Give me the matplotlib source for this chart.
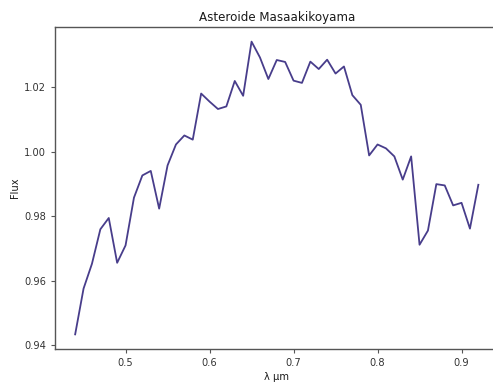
import matplotlib
matplotlib.use("Agg")
import matplotlib.pyplot as plt
import numpy as np

wavelength = [0.44, 0.45, 0.46, 0.47, 0.48, 0.49, 0.50, 0.51, 0.52, 0.53,
              0.54, 0.55, 0.56, 0.57, 0.58, 0.59, 0.60, 0.61, 0.62, 0.63,
              0.64, 0.65, 0.66, 0.67, 0.68, 0.69, 0.70, 0.71, 0.72, 0.73,
              0.74, 0.75, 0.76, 0.77, 0.78, 0.79, 0.80, 0.81, 0.82, 0.83,
              0.84, 0.85, 0.86, 0.87, 0.88, 0.89, 0.90, 0.91, 0.92]
flux = [0.9433, 0.9575, 0.9652, 0.9759, 0.9794, 0.9655, 0.9709, 0.9857, 0.9926, 0.9940,
        0.9823, 0.9957, 1.0022, 1.0050, 1.0037, 1.0180, 1.0155, 1.0132, 1.0140, 1.0219,
        1.0173, 1.0341, 1.0292, 1.0225, 1.0284, 1.0278, 1.0220, 1.0213, 1.0279, 1.0256,
        1.0285, 1.0242, 1.0264, 1.0175, 1.0145, 0.9988, 1.0022, 1.0010, 0.9985, 0.9913,
        0.9985, 0.9711, 0.9755, 0.9899, 0.9895, 0.9833, 0.9841, 0.9761, 0.9897]

title = "Asteroide Masaakikoyama"
xlabel = "λ μm"
ylabel = "Flux"

W, H = 493, 385
fig = plt.figure(figsize=(W / 100, H / 100), dpi=100)
ax = fig.add_axes([55 / W, 36 / H, 443.5 / W, 322 / H])
ax.plot(wavelength, flux, color="#483D8B", linewidth=1.3)
ax.set_title(title, fontsize=8.6, color="#1a1a1a", pad=4)
ax.set_xlabel(xlabel, fontsize=7.1, color="#1a1a1a", labelpad=3)
ax.set_ylabel(ylabel, fontsize=7.1, color="#1a1a1a", labelpad=3)
ax.set_xticks([0.5, 0.6, 0.7, 0.8, 0.9])
ax.set_yticks([0.94, 0.96, 0.98, 1.00, 1.02])
ax.tick_params(labelsize=7.1, labelcolor="#333333", color="#555555", length=3, width=0.8)
for s in ax.spines.values():
    s.set_color("#555555")
    s.set_linewidth(1.0)
ax.spines["right"].set_visible(False)
ax.margins(x=0.05, y=0.05)
fig.savefig("out.png", dpi=100)
